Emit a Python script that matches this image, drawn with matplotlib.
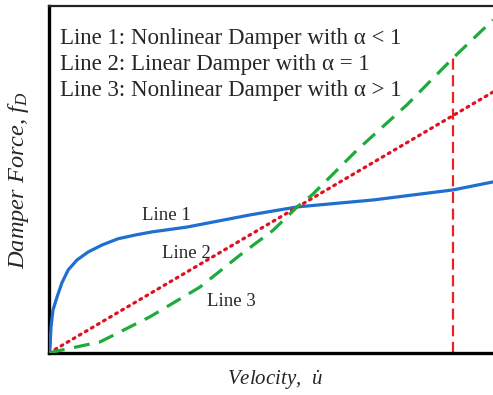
import matplotlib
matplotlib.use("Agg")
import matplotlib.pyplot as plt

plt.rcParams['mathtext.fontset'] = 'custom'
plt.rcParams['mathtext.rm'] = 'Liberation Serif'
plt.rcParams['mathtext.it'] = 'Liberation Serif:italic'
plt.rcParams['font.family'] = ['Liberation Serif', 'DejaVu Serif']

# Data (normalized velocity / force units)
line1_x = [0, 0.0023, 0.0045, 0.009, 0.018, 0.029, 0.043, 0.063, 0.088, 0.119, 0.155, 0.194,
           0.232, 0.311, 0.453, 0.559, 0.730, 0.910, 1.0]
line1_y = [0, 0.017, 0.075, 0.124, 0.161, 0.202, 0.239, 0.268, 0.291, 0.311, 0.329, 0.340,
           0.349, 0.363, 0.398, 0.421, 0.441, 0.470, 0.493]

line2_x = [0, 1.0]
line2_y = [0, 0.752]

line3_x = [0, 0.009, 0.115, 0.227, 0.340, 0.430, 0.505, 0.559, 0.592, 0.694, 0.806, 0.910, 1.0]
line3_y = [0, 0.003, 0.032, 0.104, 0.190, 0.282, 0.354, 0.421, 0.455, 0.585, 0.715, 0.850, 0.960]

vline_x = 0.91
vline_top = 0.85

legend_lines = ["Line 1: Nonlinear Damper with \u03b1 < 1",
                "Line 2: Linear Damper with \u03b1 = 1",
                "Line 3: Nonlinear Damper with \u03b1 > 1"]
line_labels = ["Line 1", "Line 2", "Line 3"]

fig = plt.figure(figsize=(4.93, 3.95), dpi=100)
ax = fig.add_axes([49/493, 42/395, 444/493, 347/395])
ax.set_xlim(0, 1)
ax.set_ylim(0, 1)

ax.plot(line1_x, line1_y, color='#1f6fd0', lw=2.3, solid_capstyle='round',
        solid_joinstyle='round', zorder=3)
ax.plot(line2_x, line2_y, color='#e01020', lw=2.3, linestyle=(0, (0.6, 1.6)),
        dash_capstyle='round', zorder=3)
ax.plot(line3_x, line3_y, color='#1faa3c', lw=2.3, linestyle=(0, (5, 3)), zorder=3)
ax.plot([vline_x, vline_x], [0, vline_top], color='#f02020', lw=1.6,
        linestyle=(0, (5, 2.5)), zorder=2)

for s in ['left', 'bottom']:
    ax.spines[s].set_linewidth(2.4)
    ax.spines[s].set_color('black')
ax.spines['top'].set_linewidth(1.6)
ax.spines['top'].set_color('#222222')
ax.spines['right'].set_visible(False)
ax.set_xticks([])
ax.set_yticks([])

txt_color = '#262626'
for i, t in enumerate(legend_lines):
    fig.text(60/493, 1 - (44 + 26*i)/395, t, fontsize=16.5, va='baseline', ha='left', color=txt_color)

label_pos = [(166, 215), (186, 254), (231, 301)]
for t, (px, py) in zip(line_labels, label_pos):
    fig.text(px/493, 1 - py/395, t, fontsize=13.5, ha='center', va='center', color=txt_color)

fig.text(19/493, 1 - 180/395, r"Damper Force, $f_D$", rotation=90, fontsize=17.6,
         style='italic', ha='center', va='center', color=txt_color)
fig.text(275/493, 1 - 380/395, r"Velocity,  $\dot{u}$", fontsize=15,
         style='italic', ha='center', va='center', color=txt_color)

fig.savefig("out.png", dpi=100)
